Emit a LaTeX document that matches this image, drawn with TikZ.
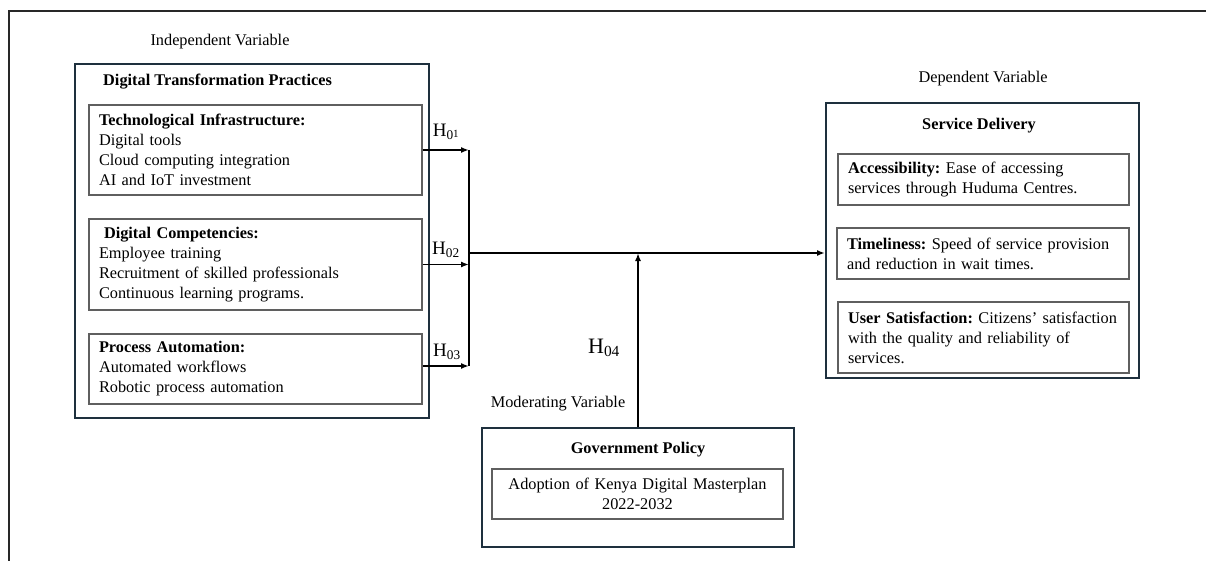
\documentclass[tikz,border=0pt]{standalone}
\usepackage{fontspec}
\setmainfont{Liberation Serif}
\usetikzlibrary{arrows.meta}
\frenchspacing
\definecolor{navy}{RGB}{30,48,62}
\definecolor{innergrey}{RGB}{95,95,95}
\definecolor{framegrey}{RGB}{40,40,40}
\tikzset{
  every node/.style={font=\fontsize{16.3}{20}\selectfont},
  bigbox/.style={draw=navy, line width=2pt, inner sep=0pt},
  smallbox/.style={draw=innergrey, line width=1.2pt, align=left, inner xsep=10pt, inner ysep=0pt,
    execute at begin node={\hyphenpenalty=10000\exhyphenpenalty=10000}},
  lbl/.style={inner sep=0pt},
  hlbl/.style={inner sep=0pt, font=\fontsize{19}{22}\selectfont},
  arr/.style={line width=1.6pt, -{Latex[length=8pt,width=6pt]}},
  ln/.style={line width=1.6pt}
}
\begin{document}
\begin{tikzpicture}[x=1pt,y=-1pt]
\useasboundingbox (0,0) rectangle (1206,561);
% outer frame (cropped)
\draw[framegrey, line width=2pt] (9,561) -- (9,11) -- (1206,11);

% Independent variable
\node[lbl] (iv) at (220,42) {Independent Variable};
\node[bigbox, minimum width=354pt, minimum height=354pt] (dtp) at (252,241) {};
\node[lbl, anchor=west, font=\fontsize{16.3}{20}\selectfont\bfseries] (dtpt) at (103,82) {Digital Transformation Practices};
\node[smallbox, text width=313pt, minimum height=90pt] (b1) at (255.5,150)
  {\textbf{Technological Infrastructure:}\\Digital tools\\Cloud computing integration\\AI and IoT investment};
\node[smallbox, text width=313pt, minimum height=91pt] (b2) at (255.5,264.5)
  {\hspace*{5pt}\textbf{Digital Competencies:}\\Employee training\\Recruitment of skilled professionals\\Continuous learning programs.};
\node[smallbox, text width=313pt, minimum height=70pt] (b3) at (255.5,369)
  {\textbf{Process Automation:}\\Automated workflows\\Robotic process automation};

% Dependent variable
\node[lbl] (dv) at (983,79) {Dependent Variable};
\node[bigbox, minimum width=313pt, minimum height=275pt] (sd) at (982.5,240.5) {};
\node[lbl, font=\fontsize{16.3}{20}\selectfont\bfseries] (sdt) at (979,126) {Service Delivery};
\node[smallbox, text width=285pt, inner xsep=3pt, minimum height=51pt] (s1) at (983.5,179.5)
  {\hspace*{7pt}\textbf{Accessibility:} Ease of accessing\\\hspace*{7pt}services through Huduma Centres.};
\node[smallbox, text width=286pt, inner xsep=3pt, minimum height=51pt] (s2) at (983,253.5)
  {\hspace*{7pt}\textbf{Timeliness:} Speed of service provision\\\hspace*{7pt}and reduction in wait times.};
\node[smallbox, text width=285pt, inner xsep=3pt, minimum height=71pt] (s3) at (983.5,337.5)
  {\hspace*{7pt}\textbf{User Satisfaction:} Citizens’ satisfaction\\\hspace*{7pt}with the quality and reliability of\\\hspace*{7pt}services.};

% Moderating variable
\node[lbl] (mv) at (558,404) {Moderating Variable};
\node[bigbox, minimum width=312pt, minimum height=119pt] (gp) at (638,487.5) {};
\node[lbl, font=\fontsize{16.3}{20}\selectfont\bfseries] (gpt) at (638,450) {Government Policy};
\node[smallbox, align=center, text width=271pt, minimum height=50pt] (g1) at (637.5,494)
  {Adoption of Kenya Digital Masterplan\\2022-2032};

% connectors
\coordinate (jx) at (469,0);
\coordinate (jm) at (469,253);
\coordinate (b3a) at ([yshift=3pt]b3.east);
\draw[arr] (b1.east) -- (b1.east -| jx);
\draw[arr] (b2.east) -- (b2.east -| jx);
\draw[arr] (b3a) -- (b3a -| jx);
\draw[ln] (b1.east -| jx) -- (b3a -| jx);
\draw[arr] (jm) -- (jm -| sd.west);
\draw[arr] (gp.north) -- (gp.north |- jm);

% hypothesis labels
\node[hlbl] (h1) at (446,132) {H\textsubscript{0\raisebox{0.35ex}{\fontsize{11}{11}\selectfont 1}}};
\node[hlbl] (h2) at (446,250) {H\textsubscript{02}};
\node[hlbl] (h3) at (447,352) {H\textsubscript{03}};
\node[lbl, font=\fontsize{22}{24}\selectfont] (h4) at (604,348) {H\textsubscript{04}};
\end{tikzpicture}
\end{document}
